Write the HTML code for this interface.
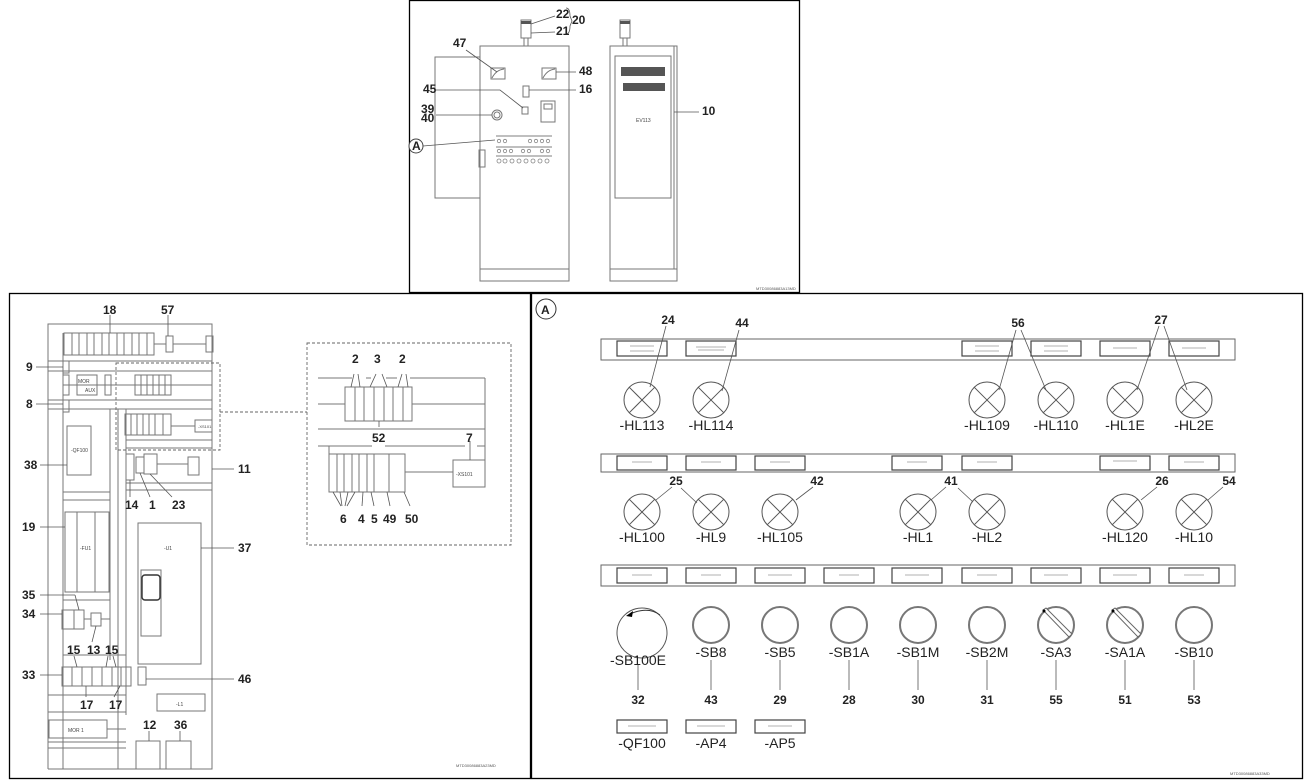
<!DOCTYPE html>
<html><head><meta charset="utf-8"><style>
html,body{margin:0;padding:0;background:#fff;}
svg{display:block;font-family:"Liberation Sans",Arial,sans-serif;}
.b{font-weight:bold;font-size:12px;fill:#222;}
.l{font-size:14px;fill:#222;}
.s{font-size:5px;fill:#444;}
.t{font-size:4px;fill:#555;}
</style></head><body>
<svg width="1308" height="783" viewBox="0 0 1308 783" xmlns="http://www.w3.org/2000/svg">
<g fill="none" stroke="#000" stroke-width="1.3">
<rect x="409.5" y="0.5" width="390" height="292"/>
<rect x="9.5" y="293.5" width="521" height="485"/>
<rect x="531.5" y="293.5" width="771" height="485"/>
</g>

<!-- TOP PANEL -->
<g fill="none" stroke="#777" stroke-width="1">
<polyline points="480,57 435,57 435,198 480,198"/>
<rect x="480" y="46" width="89" height="235"/>
<line x1="480" y1="269" x2="569" y2="269"/>
<rect x="610" y="46" width="67" height="235"/>
<line x1="610" y1="269" x2="677" y2="269"/>
<line x1="674" y1="46" x2="674" y2="269"/>
<rect x="615" y="56" width="56" height="142"/>
<rect x="521" y="20" width="10" height="18"/><line x1="524" y1="38" x2="524" y2="46"/><line x1="528" y1="38" x2="528" y2="46"/>
<rect x="620" y="20" width="10" height="18"/><line x1="623" y1="38" x2="623" y2="46"/><line x1="627" y1="38" x2="627" y2="46"/>
<rect x="491" y="68" width="14" height="11"/><path d="M492,78 Q496,70 504,69"/>
<rect x="542" y="68" width="14" height="11"/><path d="M543,78 Q547,70 555,69"/>
<rect x="523" y="86" width="6" height="11"/>
<rect x="522" y="107" width="6" height="7"/>
<rect x="541" y="101" width="14" height="21"/><rect x="544" y="104" width="8" height="5"/>
<circle cx="497" cy="115" r="5"/><circle cx="497" cy="115" r="3"/>
<rect x="479" y="150" width="6" height="17"/>
</g>
<g fill="#555">
<rect x="621" y="67" width="44" height="9"/><rect x="623" y="83" width="42" height="8"/>
<rect x="521" y="21" width="10" height="3"/><rect x="620" y="21" width="10" height="3"/>
</g>
<g stroke="#999" stroke-width="1.2" fill="none">
<line x1="496" y1="136" x2="552" y2="136"/><line x1="496" y1="147" x2="552" y2="147"/><line x1="496" y1="156" x2="552" y2="156"/>
</g>
<g fill="none" stroke="#888" stroke-width="0.8">
<circle cx="499" cy="141" r="1.7"/><circle cx="505" cy="141" r="1.7"/><circle cx="530" cy="141" r="1.7"/><circle cx="536" cy="141" r="1.7"/><circle cx="542" cy="141" r="1.7"/><circle cx="548" cy="141" r="1.7"/>
<circle cx="499" cy="151" r="1.7"/><circle cx="505" cy="151" r="1.7"/><circle cx="511" cy="151" r="1.7"/><circle cx="523" cy="151" r="1.7"/><circle cx="529" cy="151" r="1.7"/><circle cx="542" cy="151" r="1.7"/><circle cx="548" cy="151" r="1.7"/>
<circle cx="499" cy="161" r="2"/><circle cx="505" cy="161" r="2"/><circle cx="512" cy="161" r="2"/><circle cx="519" cy="161" r="2"/><circle cx="526" cy="161" r="2"/><circle cx="533" cy="161" r="2"/><circle cx="540" cy="161" r="2"/><circle cx="547" cy="161" r="2"/>
</g>
<g stroke="#555" stroke-width="0.8" fill="none">
<line x1="466" y1="50" x2="497" y2="72"/>
<line x1="556" y1="72" x2="576" y2="72"/>
<line x1="529" y1="90" x2="576" y2="90"/>
<polyline points="436,90 500,90 523,108"/>
<line x1="436" y1="115" x2="492" y2="115"/>
<line x1="423" y1="146" x2="495" y2="140"/>
<line x1="674" y1="112" x2="699" y2="112"/>
<line x1="531" y1="24" x2="555" y2="16"/><line x1="531" y1="33" x2="555" y2="32"/>
<path d="M566,8 Q570,8 570,16 L572,21 L570,26 Q570,34 566,34"/>
</g>
<circle cx="416" cy="146" r="7" fill="#fff" stroke="#444"/>
<text x="412" y="150" class="b" font-size="10">A</text>
<g class="b" font-size="9">
<text x="453" y="47">47</text><text x="579" y="75">48</text><text x="579" y="93">16</text><text x="423" y="93">45</text>
<text x="421" y="113">39</text><text x="421" y="122">40</text><text x="556" y="18">22</text><text x="556" y="35">21</text>
<text x="572" y="24">20</text><text x="702" y="115">10</text>
</g>
<text x="636" y="122" class="s" font-size="6">EV113</text>
<text x="756" y="290" class="t">MTD30086883A13MD</text>

<!-- LEFT PANEL -->
<g fill="none" stroke="#777" stroke-width="1">
<polyline points="48,769 48,324 212,324 212,769 48,769"/>
<line x1="63" y1="333" x2="63" y2="409"/>
<line x1="48" y1="361" x2="212" y2="361"/><line x1="48" y1="371" x2="212" y2="371"/>
<line x1="48" y1="400" x2="212" y2="400"/><line x1="48" y1="409" x2="212" y2="409"/>
<line x1="63" y1="385" x2="212" y2="385"/>
<line x1="118" y1="409" x2="118" y2="769"/><line x1="126" y1="409" x2="126" y2="715"/>
<line x1="126" y1="440" x2="212" y2="440"/><line x1="126" y1="448" x2="212" y2="448"/>
<line x1="126" y1="483" x2="212" y2="483"/><line x1="126" y1="490" x2="212" y2="490"/>
<line x1="63" y1="409" x2="63" y2="769"/>
<line x1="63" y1="492" x2="110" y2="492"/><line x1="63" y1="500" x2="110" y2="500"/>
<line x1="110" y1="409" x2="110" y2="660"/>
<line x1="63" y1="600" x2="110" y2="600"/><line x1="63" y1="655" x2="126" y2="655"/>
<line x1="48" y1="695" x2="126" y2="695"/><line x1="48" y1="712" x2="126" y2="712"/>
<line x1="48" y1="742" x2="126" y2="742"/><line x1="48" y1="748" x2="126" y2="748"/>
<rect x="64" y="333" width="90" height="22"/>
<rect x="166" y="336" width="7" height="16"/><rect x="206" y="336" width="7" height="16"/>
<line x1="154" y1="344" x2="166" y2="344"/><line x1="173" y1="344" x2="206" y2="344"/>
<rect x="63" y="361" width="6" height="12"/><rect x="63" y="375" width="6" height="20"/><rect x="63" y="400" width="6" height="12"/>
<rect x="77" y="375" width="20" height="20"/><rect x="105" y="375" width="6" height="20"/>
<rect x="135" y="375" width="36" height="20"/>
<rect x="125" y="414" width="46" height="21"/><rect x="195" y="420" width="17" height="12"/>
<line x1="171" y1="426" x2="195" y2="426"/>
<rect x="67" y="426" width="24" height="49"/>
<rect x="126" y="454" width="8" height="26"/><rect x="136" y="457" width="8" height="16"/><rect x="144" y="454" width="13" height="20"/>
<rect x="188" y="457" width="11" height="18"/><line x1="157" y1="464" x2="188" y2="464"/>
<rect x="65" y="512" width="44" height="80"/><line x1="77" y1="512" x2="77" y2="592"/><line x1="95" y1="512" x2="95" y2="592"/>
<rect x="138" y="523" width="63" height="141"/><rect x="141" y="570" width="20" height="66"/>
<rect x="142" y="575" width="18" height="25" rx="3" stroke="#333" stroke-width="1.4"/>
<rect x="62" y="610" width="12" height="19"/><rect x="74" y="610" width="10" height="19"/><rect x="91" y="613" width="10" height="13"/>
<line x1="84" y1="619" x2="91" y2="619"/><line x1="101" y1="619" x2="110" y2="619"/>
<rect x="62" y="667" width="69" height="19"/>
<line x1="72" y1="667" x2="72" y2="686"/><line x1="82" y1="667" x2="82" y2="686"/><line x1="92" y1="667" x2="92" y2="686"/><line x1="102" y1="667" x2="102" y2="686"/><line x1="112" y1="667" x2="112" y2="686"/><line x1="121" y1="667" x2="121" y2="686"/>
<rect x="138" y="667" width="8" height="18"/>
<rect x="157" y="694" width="48" height="17"/>
<rect x="49" y="720" width="58" height="18"/><line x1="107" y1="729" x2="126" y2="729"/>
<rect x="136" y="741" width="24" height="28"/><rect x="166" y="741" width="25" height="28"/>
</g>
<g stroke="#777" stroke-width="1" fill="none">
<line x1="72" y1="333" x2="72" y2="355"/><line x1="79" y1="333" x2="79" y2="355"/><line x1="87" y1="333" x2="87" y2="355"/><line x1="94" y1="333" x2="94" y2="355"/><line x1="102" y1="333" x2="102" y2="355"/><line x1="109" y1="333" x2="109" y2="355"/><line x1="117" y1="333" x2="117" y2="355"/><line x1="124" y1="333" x2="124" y2="355"/><line x1="132" y1="333" x2="132" y2="355"/><line x1="139" y1="333" x2="139" y2="355"/><line x1="147" y1="333" x2="147" y2="355"/>
<line x1="141" y1="375" x2="141" y2="395"/><line x1="147" y1="375" x2="147" y2="395"/><line x1="153" y1="375" x2="153" y2="395"/><line x1="159" y1="375" x2="159" y2="395"/><line x1="165" y1="375" x2="165" y2="395"/>
<line x1="131" y1="414" x2="131" y2="435"/><line x1="137" y1="414" x2="137" y2="435"/><line x1="143" y1="414" x2="143" y2="435"/><line x1="149" y1="414" x2="149" y2="435"/><line x1="155" y1="414" x2="155" y2="435"/><line x1="163" y1="414" x2="163" y2="435"/>
</g>
<g fill="none" stroke="#666" stroke-dasharray="3,2" stroke-width="0.9">
<rect x="116" y="363" width="104" height="87"/>
<line x1="220" y1="412" x2="307" y2="412"/>
<rect x="307" y="343" width="204" height="202"/>
</g>
<g stroke="#555" stroke-width="0.8">
<line x1="110" y1="315" x2="110" y2="333"/><line x1="168" y1="315" x2="168" y2="336"/>
<line x1="36" y1="367" x2="63" y2="367"/><line x1="36" y1="404" x2="63" y2="404"/>
<line x1="40" y1="465" x2="67" y2="465"/><line x1="212" y1="469" x2="234" y2="469"/>
<line x1="130" y1="480" x2="130" y2="497"/><line x1="140" y1="473" x2="150" y2="497"/><line x1="150" y1="474" x2="172" y2="497"/>
<line x1="40" y1="527" x2="65" y2="527"/><line x1="201" y1="548" x2="234" y2="548"/>
<line x1="40" y1="595" x2="75" y2="595"/><line x1="75" y1="595" x2="79" y2="610"/>
<line x1="40" y1="614" x2="62" y2="614"/><line x1="96" y1="626" x2="92" y2="642"/>
<line x1="40" y1="675" x2="62" y2="675"/><line x1="146" y1="679" x2="234" y2="679"/>
<line x1="86" y1="686" x2="86" y2="697"/><line x1="120" y1="686" x2="114" y2="697"/>
<line x1="149" y1="731" x2="149" y2="741"/><line x1="180" y1="731" x2="180" y2="741"/>
<line x1="74" y1="656" x2="77" y2="667"/><line x1="108" y1="656" x2="106" y2="667"/><line x1="113" y1="656" x2="116" y2="667"/>
</g>
<g class="b">
<text x="103" y="314">18</text><text x="161" y="314">57</text><text x="26" y="371">9</text><text x="26" y="408">8</text>
<text x="24" y="469">38</text><text x="238" y="473">11</text><text x="125" y="509">14</text><text x="149" y="509">1</text><text x="172" y="509">23</text>
<text x="22" y="531">19</text><text x="238" y="552">37</text><text x="22" y="599">35</text><text x="22" y="618">34</text>
<text x="67" y="654">15</text><text x="87" y="654">13</text><text x="105" y="654">15</text>
<text x="22" y="679">33</text><text x="238" y="683">46</text><text x="80" y="709">17</text><text x="109" y="709">17</text>
<text x="143" y="729">12</text><text x="174" y="729">36</text>
</g>
<g class="s" font-size="6">
<text x="71" y="452">-QF100</text><text x="80" y="550">-FU1</text><text x="164" y="550">-U1</text>
<text x="78" y="383">MOR</text><text x="85" y="392">AUX</text><text x="176" y="706">-L1</text><text x="68" y="732">MOR 1</text>
<text x="198" y="428" font-size="4">-XS101</text>
</g>
<text x="456" y="767" class="t" font-size="5">MTD30086883A23MD</text>

<!-- DETAIL -->
<g fill="none" stroke="#777" stroke-width="1">
<line x1="318" y1="378" x2="352" y2="378"/><line x1="366" y1="378" x2="371" y2="378"/><line x1="386" y1="378" x2="397" y2="378"/><line x1="410" y1="378" x2="485" y2="378"/>
<line x1="318" y1="404" x2="345" y2="404"/><line x1="412" y1="404" x2="485" y2="404"/>
<line x1="318" y1="429" x2="485" y2="429"/>
<line x1="318" y1="446" x2="372" y2="446"/><line x1="385" y1="446" x2="465" y2="446"/><line x1="477" y1="446" x2="485" y2="446"/>
<line x1="485" y1="378" x2="485" y2="487"/>
<line x1="329" y1="446" x2="329" y2="454"/>
<rect x="345" y="387" width="67" height="34"/>
<line x1="355" y1="387" x2="355" y2="421"/><line x1="364" y1="387" x2="364" y2="421"/><line x1="374" y1="387" x2="374" y2="421"/><line x1="384" y1="387" x2="384" y2="421"/><line x1="393" y1="387" x2="393" y2="421"/><line x1="403" y1="387" x2="403" y2="421"/>
<rect x="329" y="454" width="76" height="38"/>
<line x1="337" y1="454" x2="337" y2="492"/><line x1="344" y1="454" x2="344" y2="492"/><line x1="352" y1="454" x2="352" y2="492"/><line x1="359" y1="454" x2="359" y2="492"/><line x1="367" y1="454" x2="367" y2="492"/><line x1="374" y1="454" x2="374" y2="492"/><line x1="389" y1="454" x2="389" y2="492"/>
<rect x="453" y="460" width="32" height="27"/><line x1="405" y1="472" x2="453" y2="472"/>
</g>
<g stroke="#555" stroke-width="0.8">
<line x1="354" y1="374" x2="351" y2="387"/><line x1="358" y1="374" x2="360" y2="387"/>
<line x1="376" y1="374" x2="370" y2="387"/><line x1="382" y1="374" x2="387" y2="387"/>
<line x1="402" y1="374" x2="398" y2="387"/><line x1="406" y1="374" x2="408" y2="387"/>
<line x1="379" y1="421" x2="379" y2="427"/><line x1="470" y1="441" x2="470" y2="460"/>
<line x1="333" y1="492" x2="341" y2="506"/><line x1="340" y1="492" x2="342" y2="506"/><line x1="348" y1="492" x2="345" y2="506"/><line x1="355" y1="492" x2="347" y2="506"/>
<line x1="363" y1="492" x2="362" y2="506"/><line x1="371" y1="492" x2="374" y2="506"/><line x1="387" y1="492" x2="390" y2="506"/><line x1="404" y1="492" x2="410" y2="506"/>
</g>
<g class="b" font-size="13">
<text x="352" y="363">2</text><text x="374" y="363">3</text><text x="399" y="363">2</text>
<text x="372" y="442">52</text><text x="466" y="442">7</text>
<text x="340" y="523">6</text><text x="358" y="523">4</text><text x="371" y="523">5</text><text x="383" y="523">49</text><text x="405" y="523">50</text>
</g>
<text x="456" y="476" class="s">-XS101</text>

<!-- RIGHT PANEL -->
<circle cx="546" cy="309" r="10" fill="none" stroke="#333" stroke-width="1"/>
<text x="541" y="314" class="b" font-size="13">A</text>
<g fill="none" stroke="#666" stroke-width="1">
<rect x="601" y="339" width="634" height="21"/>
<rect x="601" y="454" width="634" height="18"/>
<rect x="601" y="565" width="634" height="21"/>
</g>
<g fill="none" stroke="#444" stroke-width="1.2">
<rect x="617" y="341" width="50" height="15"/><rect x="686" y="341" width="50" height="15"/>
<rect x="962" y="341" width="50" height="15"/><rect x="1031" y="341" width="50" height="15"/><rect x="1100" y="341" width="50" height="15"/><rect x="1169" y="341" width="50" height="15"/>
<rect x="617" y="456" width="50" height="14"/><rect x="686" y="456" width="50" height="14"/><rect x="755" y="456" width="50" height="14"/><rect x="892" y="456" width="50" height="14"/><rect x="962" y="456" width="50" height="14"/><rect x="1100" y="456" width="50" height="14"/><rect x="1169" y="456" width="50" height="14"/>
<rect x="617" y="568" width="50" height="15"/><rect x="686" y="568" width="50" height="15"/><rect x="755" y="568" width="50" height="15"/><rect x="824" y="568" width="50" height="15"/><rect x="892" y="568" width="50" height="15"/><rect x="962" y="568" width="50" height="15"/><rect x="1031" y="568" width="50" height="15"/><rect x="1100" y="568" width="50" height="15"/><rect x="1169" y="568" width="50" height="15"/>
<rect x="617" y="720" width="50" height="13"/><rect x="686" y="720" width="50" height="13"/><rect x="755" y="720" width="50" height="13"/>
</g>
<g stroke="#999" stroke-width="0.8">
<line x1="630" y1="346" x2="654" y2="346"/><line x1="630" y1="351" x2="654" y2="351"/><line x1="696" y1="347" x2="726" y2="347"/><line x1="698" y1="350" x2="724" y2="350"/>
<line x1="975" y1="346" x2="999" y2="346"/><line x1="975" y1="351" x2="999" y2="351"/><line x1="1044" y1="346" x2="1068" y2="346"/><line x1="1044" y1="351" x2="1068" y2="351"/><line x1="1113" y1="348" x2="1137" y2="348"/><line x1="1182" y1="348" x2="1206" y2="348"/>
<line x1="632" y1="462" x2="652" y2="462"/><line x1="701" y1="462" x2="721" y2="462"/><line x1="770" y1="462" x2="790" y2="462"/><line x1="907" y1="462" x2="927" y2="462"/><line x1="977" y1="462" x2="997" y2="462"/><line x1="1113" y1="461" x2="1137" y2="461"/><line x1="1184" y1="462" x2="1204" y2="462"/>
<line x1="632" y1="575" x2="652" y2="575"/><line x1="701" y1="575" x2="721" y2="575"/><line x1="768" y1="575" x2="792" y2="575"/><line x1="839" y1="575" x2="859" y2="575"/><line x1="905" y1="575" x2="929" y2="575"/><line x1="977" y1="575" x2="997" y2="575"/><line x1="1044" y1="575" x2="1068" y2="575"/><line x1="1113" y1="575" x2="1137" y2="575"/><line x1="1184" y1="575" x2="1204" y2="575"/>
<line x1="628" y1="726" x2="656" y2="726"/><line x1="697" y1="726" x2="725" y2="726"/><line x1="768" y1="726" x2="792" y2="726"/>
</g>
<defs>
<g id="lamp"><circle r="18" fill="none" stroke="#555" stroke-width="1"/><line x1="-12.7" y1="-12.7" x2="12.7" y2="12.7" stroke="#555"/><line x1="-12.7" y1="12.7" x2="12.7" y2="-12.7" stroke="#555"/></g>
<g id="btn"><circle r="18" fill="none" stroke="#777" stroke-width="2"/></g>
<g id="sel"><circle r="18" fill="none" stroke="#777" stroke-width="2"/><polygon points="-13,-15 -10,-17 16,9 13,12" fill="#fff" stroke="#666"/><circle cx="-12" cy="-14" r="1.5" fill="#000"/></g>
</defs>
<use href="#lamp" x="642" y="400"/><use href="#lamp" x="711" y="400"/><use href="#lamp" x="987" y="400"/><use href="#lamp" x="1056" y="400"/><use href="#lamp" x="1125" y="400"/><use href="#lamp" x="1194" y="400"/>
<use href="#lamp" x="642" y="512"/><use href="#lamp" x="711" y="512"/><use href="#lamp" x="780" y="512"/><use href="#lamp" x="918" y="512"/><use href="#lamp" x="987" y="512"/><use href="#lamp" x="1125" y="512"/><use href="#lamp" x="1194" y="512"/>
<circle cx="642" cy="633" r="25" fill="none" stroke="#555" stroke-width="1"/>
<path d="M660,615 Q648,606 630,614" fill="none" stroke="#333"/><polygon points="626,616 633,611 632,617" fill="#000"/>
<use href="#btn" x="711" y="625"/><use href="#btn" x="780" y="625"/><use href="#btn" x="849" y="625"/><use href="#btn" x="918" y="625"/><use href="#btn" x="987" y="625"/>
<use href="#sel" x="1056" y="625"/><use href="#sel" x="1125" y="625"/><use href="#btn" x="1194" y="625"/>
<g stroke="#555" stroke-width="0.8">
<line x1="666" y1="326" x2="650" y2="387"/><line x1="739" y1="330" x2="722" y2="391"/>
<line x1="1016" y1="330" x2="999" y2="390"/><line x1="1021" y1="330" x2="1046" y2="390"/>
<line x1="1159" y1="326" x2="1137" y2="390"/><line x1="1164" y1="326" x2="1187" y2="390"/>
<line x1="672" y1="487" x2="656" y2="500"/><line x1="681" y1="488" x2="697" y2="503"/>
<line x1="813" y1="487" x2="796" y2="500"/><line x1="946" y1="487" x2="931" y2="500"/><line x1="958" y1="488" x2="973" y2="502"/>
<line x1="1157" y1="487" x2="1141" y2="500"/><line x1="1223" y1="487" x2="1208" y2="500"/>
<line x1="638" y1="665" x2="638" y2="690"/><line x1="711" y1="660" x2="711" y2="690"/><line x1="780" y1="660" x2="780" y2="690"/><line x1="849" y1="660" x2="849" y2="690"/><line x1="918" y1="660" x2="918" y2="690"/><line x1="987" y1="660" x2="987" y2="690"/><line x1="1056" y1="660" x2="1056" y2="690"/><line x1="1125" y1="660" x2="1125" y2="690"/><line x1="1194" y1="660" x2="1194" y2="690"/>
</g>
<g class="b" text-anchor="middle">
<text x="668" y="324">24</text><text x="742" y="327">44</text><text x="1018" y="327">56</text><text x="1161" y="324">27</text>
<text x="676" y="485">25</text><text x="817" y="485">42</text><text x="951" y="485">41</text><text x="1162" y="485">26</text><text x="1229" y="485">54</text>
<text x="638" y="704">32</text><text x="711" y="704">43</text><text x="780" y="704">29</text><text x="849" y="704">28</text><text x="918" y="704">30</text><text x="987" y="704">31</text><text x="1056" y="704">55</text><text x="1125" y="704">51</text><text x="1194" y="704">53</text>
</g>
<g class="l" text-anchor="middle">
<text x="642" y="430">-HL113</text><text x="711" y="430">-HL114</text><text x="987" y="430">-HL109</text><text x="1056" y="430">-HL110</text><text x="1125" y="430">-HL1E</text><text x="1194" y="430">-HL2E</text>
<text x="642" y="542">-HL100</text><text x="711" y="542">-HL9</text><text x="780" y="542">-HL105</text><text x="918" y="542">-HL1</text><text x="987" y="542">-HL2</text><text x="1125" y="542">-HL120</text><text x="1194" y="542">-HL10</text>
<text x="638" y="665">-SB100E</text><text x="711" y="657">-SB8</text><text x="780" y="657">-SB5</text><text x="849" y="657">-SB1A</text><text x="918" y="657">-SB1M</text><text x="987" y="657">-SB2M</text><text x="1056" y="657">-SA3</text><text x="1125" y="657">-SA1A</text><text x="1194" y="657">-SB10</text>
<text x="642" y="748">-QF100</text><text x="711" y="748">-AP4</text><text x="780" y="748">-AP5</text>
</g>
<text x="1230" y="775" class="t" font-size="6">MTD30086883A33MD</text>
</svg>
</body></html>
